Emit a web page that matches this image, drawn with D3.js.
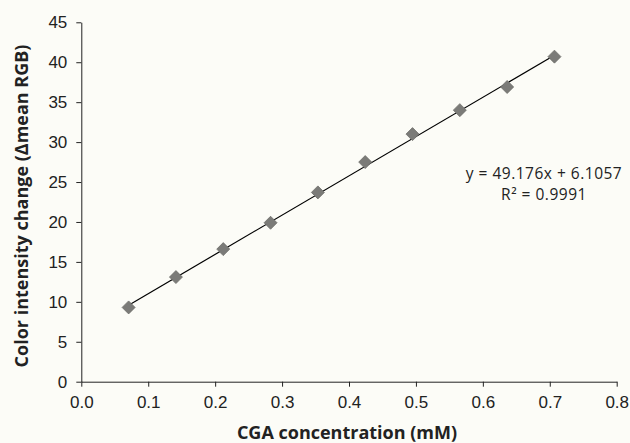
<!DOCTYPE html>
<html>
<head>
<meta charset="utf-8">
<script src="https://cdn.jsdelivr.net/npm/d3@7"></script>
<style>
  body { margin: 0; background: #fcfcf7; }
  svg { display: block; font-family: "Open Sans", sans-serif; }
</style>
</head>
<body>
<div id="container"></div>
<script>
// data
const concentration = [0.0707, 0.1414, 0.2121, 0.2828, 0.3535, 0.4242, 0.4949, 0.5656, 0.6363, 0.707];
const intensity = [9.3, 13.1, 16.6, 19.9, 23.7, 27.5, 31.0, 34.0, 36.9, 40.7];
const xTicks = [0, 0.1, 0.2, 0.3, 0.4, 0.5, 0.6, 0.7, 0.8];
const yTicks = [0, 5, 10, 15, 20, 25, 30, 35, 40, 45];
const slope = 49.176, intercept = 6.1057, r2 = 0.9991;

const width = 630, height = 443;
const marginTop = 22.3, marginRight = 13.3, marginBottom = 61.3, marginLeft = 81.3;

const points = concentration.map((c, i) => ({x: c, y: intensity[i]}));

const x = d3.scaleLinear().domain([0, 0.8]).range([marginLeft, width - marginRight]);
const y = d3.scaleLinear().domain([0, 45]).range([height - marginBottom, marginTop]);

const svg = d3.select("#container").append("svg")
    .attr("width", width)
    .attr("height", height)
    .attr("viewBox", [0, 0, width, height]);

svg.append("rect").attr("width", width).attr("height", height).attr("fill", "#fcfcf7");

// x axis
svg.append("g")
    .attr("transform", `translate(0,${y(0)})`)
    .call(d3.axisBottom(x).tickValues(xTicks).tickFormat(d3.format(".1f")).tickSize(5).tickSizeOuter(0))
    .call(g => g.selectAll("path, line").attr("stroke", "#222"))
    .call(g => g.selectAll("text")
        .attr("font-size", 17)
        .attr("fill", "#222")
        .attr("dy", "1.05em"));

// y axis
svg.append("g")
    .attr("transform", `translate(${x(0)},0)`)
    .call(d3.axisLeft(y).tickValues(yTicks).tickSize(5).tickSizeOuter(0))
    .call(g => g.selectAll("path, line").attr("stroke", "#222"))
    .call(g => g.selectAll("text")
        .attr("font-size", 17)
        .attr("fill", "#222")
        .attr("x", -14));

// trend line
const xMin = d3.min(concentration), xMax = d3.max(concentration);
svg.append("line")
    .attr("x1", x(xMin)).attr("y1", y(slope * xMin + intercept))
    .attr("x2", x(xMax)).attr("y2", y(slope * xMax + intercept))
    .attr("stroke", "#000")
    .attr("stroke-width", 1.2);

// markers
svg.append("g")
    .selectAll("path")
    .data(points)
    .join("path")
    .attr("transform", d => `translate(${x(d.x)},${y(d.y)})`)
    .attr("d", "M0,-6.5L6.5,0L0,6.5L-6.5,0Z")
    .attr("fill", "#7b7b78")
    .attr("stroke", "#6e6e6b")
    .attr("stroke-width", 0.8);

// equation, two lines
const eq = svg.append("g")
    .attr("font-size", 15.5)
    .attr("letter-spacing", 0.5)
    .attr("fill", "#222")
    .attr("text-anchor", "middle");
eq.append("text").attr("x", 544).attr("y", 178.5)
    .text(`y = ${slope}x + ${intercept}`);
eq.append("text").attr("x", 544).attr("y", 200)
    .text(`R² = ${r2}`);

// axis titles
svg.append("text")
    .attr("x", 347)
    .attr("y", 439)
    .attr("text-anchor", "middle")
    .attr("font-weight", "bold")
    .attr("font-size", 18)
    .attr("fill", "#222")
    .text("CGA concentration (mM)");

svg.append("text")
    .attr("transform", `translate(28,206) rotate(-90)`)
    .attr("text-anchor", "middle")
    .attr("font-weight", "bold")
    .attr("font-size", 18)
    .attr("fill", "#222")
    .text("Color intensity change (Δmean RGB)");
</script>
</body>
</html>
